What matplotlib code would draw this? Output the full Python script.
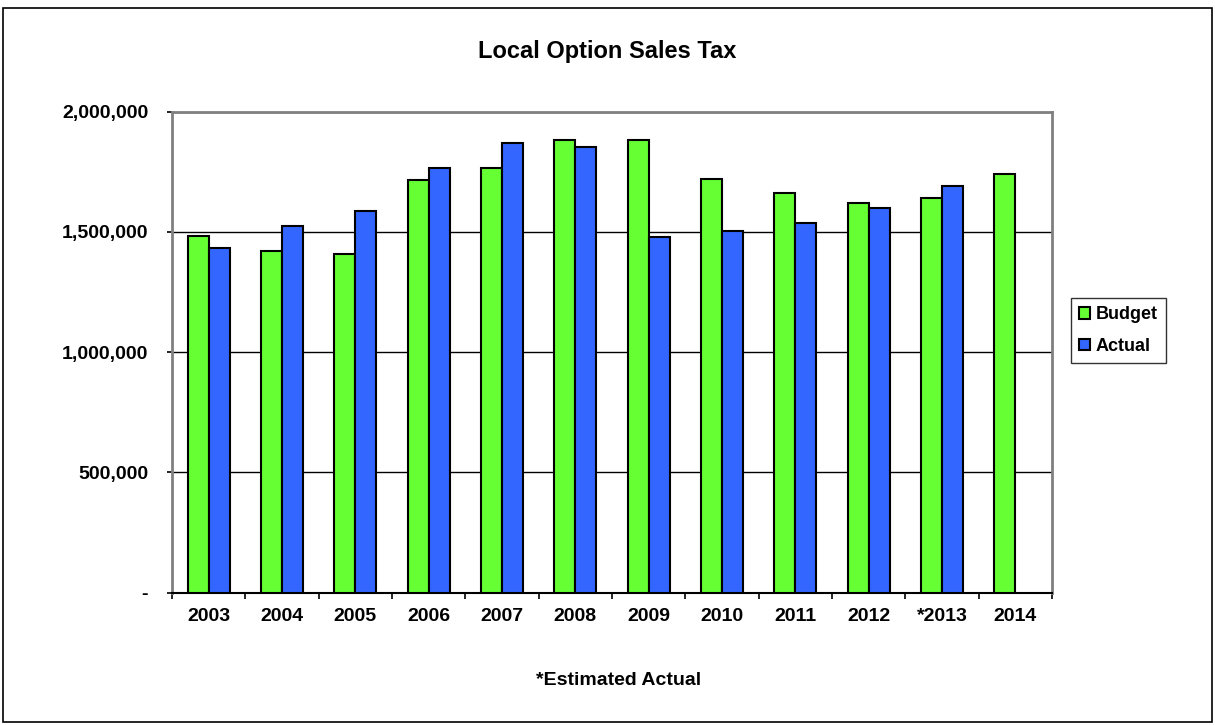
import matplotlib
matplotlib.use("Agg")
import matplotlib.pyplot as plt
import numpy as np
from matplotlib.patches import Rectangle

plt.rcParams['font.family'] = ['Liberation Sans', 'DejaVu Sans']

categories = ["2003", "2004", "2005", "2006", "2007", "2008", "2009", "2010", "2011", "2012", "*2013", "2014"]
budget = [1484000, 1421000, 1408000, 1716000, 1764000, 1884000, 1884000, 1720000, 1661000, 1620000, 1641000, 1741000]
actual = [1432000, 1525000, 1588000, 1764000, 1868000, 1852000, 1478000, 1505000, 1537000, 1601000, 1692000, None]
yticks = [0, 500000, 1000000, 1500000, 2000000]
ytick_labels = ["-", "500,000", "1,000,000", "1,500,000", "2,000,000"]

W, H = 1215, 725
fig = plt.figure(figsize=(W/100, H/100), dpi=100)
fig.patches.append(Rectangle((3/W, 3/H), (W-6)/W, (H-11)/H, transform=fig.transFigure,
                             fill=False, edgecolor='black', linewidth=1.2))

ax = fig.add_axes([172/W, 1-592.5/H, (1052-172)/W, (592.5-111.7)/H])
x = np.arange(len(categories))
bw = 0.286
green = '#66ff33'
blue = '#3366ff'
ax.bar(x - bw/2, budget, width=bw, color=green, edgecolor='black', linewidth=1.5, label='Budget', zorder=3)
act_x = [xi + bw/2 for xi, v in zip(x, actual) if v is not None]
act_v = [v for v in actual if v is not None]
ax.bar(act_x, act_v, width=bw, color=blue, edgecolor='black', linewidth=1.5, label='Actual', zorder=3)

ax.set_xlim(-0.5, len(categories) - 0.5)
ax.set_ylim(0, 2000000)
ax.set_yticks(yticks)
ax.set_yticklabels(ytick_labels, fontsize=14, fontweight='bold')
ax.yaxis.grid(True, color='black', linewidth=1.0, zorder=0)
ax.set_axisbelow(True)

ax.set_xticks(x)
ax.set_xticklabels(categories, fontsize=14, fontweight='bold')
ax.tick_params(axis='x', length=0, pad=11)
ax.set_xticks(np.arange(-0.5, len(categories)), minor=True)
ax.tick_params(axis='x', which='minor', length=4.3, width=1.2, color='black', direction='out')
ax.tick_params(axis='y', length=3.6, width=1.2, color='black', direction='out', pad=13.5)

for s in ['top', 'right', 'left']:
    ax.spines[s].set_color('#808080')
    ax.spines[s].set_linewidth(2)
ax.spines['bottom'].set_color('black')
ax.spines['bottom'].set_linewidth(1.5)

leg = fig.legend(loc='upper left', bbox_to_anchor=(1070.7/W, 1-298.3/H), bbox_transform=fig.transFigure,
                 prop={'weight': 'bold', 'size': 13}, frameon=True, fancybox=False,
                 edgecolor='black', handlelength=0.6, handleheight=0.6, handletextpad=0.35,
                 borderpad=0.45, labelspacing=0.8, borderaxespad=0)
leg.get_frame().set_linewidth(1.0)

fig.text(607/W, 1-58.3/H, "Local Option Sales Tax", ha='center', va='baseline', fontsize=17, fontweight='bold')
fig.text(619/W, 1-685/H, "*Estimated Actual", ha='center', va='baseline', fontsize=14, fontweight='bold')

fig.savefig("out.png", dpi=100)
